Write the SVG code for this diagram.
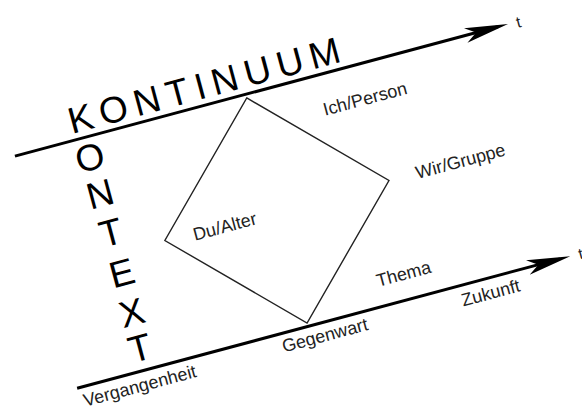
<svg xmlns="http://www.w3.org/2000/svg" width="582" height="407" viewBox="0 0 582 407">
<style>
.big{font-family:"Liberation Sans",Arial,sans-serif;font-size:37px;fill:#000}
.bigc{font-family:"Liberation Sans",Arial,sans-serif;font-size:37px;fill:#000;text-anchor:middle}
.lbl{font-family:"Liberation Sans",Arial,sans-serif;font-size:18px;fill:#222}
.t{font-family:"Liberation Sans",Arial,sans-serif;font-size:16px;fill:#222}
.axis{stroke:#000;stroke-width:3;fill:none}
.sq{stroke:#222;stroke-width:1.4;fill:none}
</style>
<defs>
<marker id="ah" viewBox="0 0 44 16" refX="33.5" refY="8" markerWidth="44" markerHeight="16" markerUnits="userSpaceOnUse" orient="auto">
<path d="M0,0.5 L44,8 L0,15.5 L11,8 Z" fill="#000"/>
</marker>
</defs>
<rect width="582" height="407" fill="#fff"/>
<g transform="rotate(-15)">
<g id="connectors">
<line class="axis" x1="-26" y1="154.7" x2="474" y2="154.7" marker-end="url(#ah)"/>
<line class="axis" x1="-26" y1="395" x2="474" y2="395" marker-end="url(#ah)"/>
</g>
<g id="square">
<polygon class="sq" points="213,158.5 329,275 213,391.5 97,275"/>
</g>
<g id="kontinuum">
<text class="big" x="35" y="148" textLength="280" lengthAdjust="spacing">KONTINUUM</text>
</g>
<g id="kontext">
<text class="bigc" x="46" y="188">O</text>
<text class="bigc" x="46.5" y="226">N</text>
<text class="bigc" x="47" y="266">T</text>
<text class="bigc" x="47" y="308">E</text>
<text class="bigc" x="46.5" y="349">X</text>
<text class="bigc" x="45" y="385">T</text>
</g>
<g id="ich"><text class="lbl" x="284" y="196">Ich/Person</text></g>
<g id="wir"><text class="lbl" x="357" y="281">Wir/Gruppe</text></g>
<g id="du"><text class="lbl" x="126" y="283">Du/Alter</text></g>
<g id="thema"><text class="lbl" x="291" y="375">Thema</text></g>
<g id="vergangenheit"><text class="lbl" x="-23" y="415">Vergangenheit</text></g>
<g id="gegenwart"><text class="lbl" x="183" y="414">Gegenwart</text></g>
<g id="zukunft"><text class="lbl" x="368" y="416">Zukunft</text></g>
<g id="t1"><text class="t" x="493" y="161">t</text></g>
<g id="t2"><text class="t" x="493" y="401">t</text></g>
</g>
</svg>
